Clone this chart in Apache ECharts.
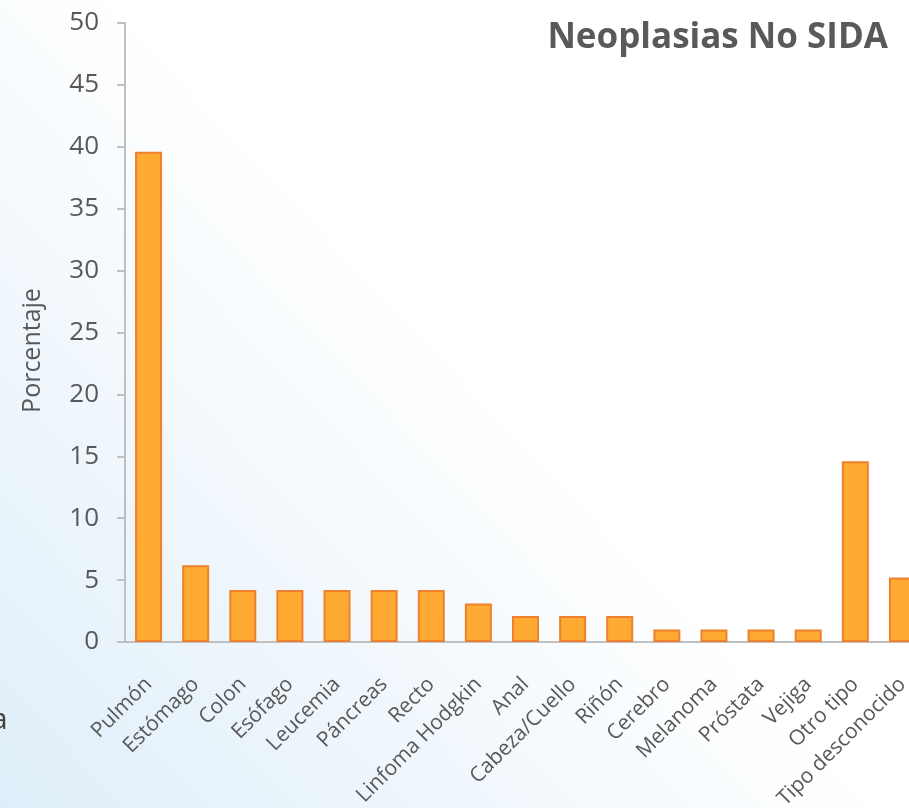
<!DOCTYPE html>
<html><head><meta charset="utf-8">
<script src="https://cdn.jsdelivr.net/npm/echarts@6/dist/echarts.min.js"></script>
<style>html,body{margin:0;padding:0;}#c{width:909px;height:808px;}</style>
</head><body><div id="c"></div>
<script>
const categories = ["Pulmón","Estómago","Colon","Esófago","Leucemia","Páncreas","Recto","Linfoma Hodgkin","Anal","Cabeza/Cuello","Riñón","Cerebro","Melanoma","Próstata","Vejiga","Otro tipo","Tipo desconocido"];
const values = [39.6, 6.2, 4.2, 4.2, 4.2, 4.2, 4.2, 3.1, 2.1, 2.1, 2.1, 1.0, 1.0, 1.0, 1.0, 14.6, 5.2];
const yTicks = {min: 0, max: 50, interval: 5};
const titleText = "Neoplasias No SIDA";
const yName = "Porcentaje";

const chart = echarts.init(document.getElementById('c'));
const font = '"Open Sans", "Noto Sans", sans-serif';
chart.setOption({
  backgroundColor: {
    type: 'linear', x: 0.8, y: 0.15, x2: 0, y2: 1,
    colorStops: [{offset: 0, color: '#ffffff'}, {offset: 0.35, color: '#ffffff'}, {offset: 1, color: '#dfeef9'}]
  },
  animation: false,
  title: {
    text: titleText, right: 16, top: 16,
    textStyle: {fontFamily: font, fontWeight: 'bold', fontSize: 35, color: '#595959'}
  },
  graphic: [{type: 'text', left: -9, top: 705, style: {text: 'a', font: '30px ' + font, fill: '#404040'}}],
  grid: {left: 125, top: 23, height: 619, width: 801, outerBoundsMode: 'none', containLabel: false},
  xAxis: {
    type: 'category', data: categories,
    axisLine: {show: true, lineStyle: {color: '#c0c0c0', width: 2}},
    axisTick: {show: false},
    axisLabel: {rotate: 45, interval: 0, fontFamily: font, fontSize: 21, color: '#585858', margin: 39, verticalAlign: 'middle'}
  },
  yAxis: {
    type: 'value', min: yTicks.min, max: yTicks.max, interval: yTicks.interval,
    name: yName, nameLocation: 'middle', nameGap: 80, nameRotate: 90,
    nameTextStyle: {fontFamily: font, fontSize: 25, color: '#585858', padding: [0, 36, 0, 0]},
    axisLine: {show: true, lineStyle: {color: '#c0c0c0', width: 2}},
    axisTick: {show: true, length: 8, lineStyle: {color: '#c0c0c0', width: 2}},
    splitLine: {show: false},
    axisLabel: {fontFamily: font, fontSize: 26, color: '#585858', margin: 26}
  },
  series: [{
    type: 'bar', data: values, barWidth: 27,
    itemStyle: {color: '#ffaa33', borderColor: '#ee802e', borderWidth: 2}
  }]
});
</script></body></html>
